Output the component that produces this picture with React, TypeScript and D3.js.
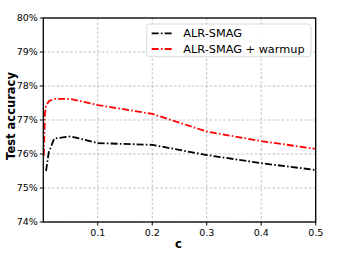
import React from 'react';
import * as d3 from 'd3';

// values
const baseC = [0.005, 0.01, 0.02, 0.05, 0.1, 0.2, 0.3, 0.4, 0.5];
const baseAcc = [75.5, 76.05, 76.45, 76.52, 76.32, 76.27, 75.97, 75.73, 75.53];
const warmC = [0.001, 0.003, 0.005, 0.01, 0.02, 0.05, 0.1, 0.2, 0.3, 0.4, 0.5];
const warmAcc = [75.95, 77.2, 77.4, 77.55, 77.62, 77.62, 77.44, 77.18, 76.66, 76.38, 76.15];
const xTicks = [0.1, 0.2, 0.3, 0.4, 0.5];
const yTicks = [74, 75, 76, 77, 78, 79, 80];
const seriesNames = ['ALR-SMAG', 'ALR-SMAG + warmup'];
const seriesColors = ['#000000', '#ff0000'];

const W = 349;
const H = 262;
const m = { left: 43.3, right: 33.3, top: 18, bottom: 40 };
const FONT = 'DejaVu Sans, sans-serif';
const DASH = '7,2.2,1.6,2.2';

const App: React.FC = () => {
  const x = d3.scaleLinear().domain([0, 0.5]).range([m.left, W - m.right]);
  const y = d3.scaleLinear().domain([74, 80]).range([H - m.bottom, m.top]);

  const line = d3.line<[number, number]>()
    .x(d => x(d[0]))
    .y(d => y(d[1]));

  const series = [
    baseC.map((c, i) => [c, baseAcc[i]] as [number, number]),
    warmC.map((c, i) => [c, warmAcc[i]] as [number, number])
  ];

  const x0 = m.left;
  const x1 = W - m.right;
  const y0 = H - m.bottom;
  const y1 = m.top;

  const lgX = 146.7;
  const lgY = 24;

  return (
    <svg width={W} height={H} style={{ position: 'absolute', left: 0, top: 0 }} fontFamily={FONT}>
      <rect width={W} height={H} fill="#fff" />
      {/* grid */}
      <g stroke="#b0b0b0" strokeWidth={0.8} strokeDasharray="2.5,2">
        {xTicks.map(t => (
          <line key={'gx' + t} x1={x(t)} x2={x(t)} y1={y1} y2={y0} />
        ))}
        {yTicks.map(t => (
          <line key={'gy' + t} x1={x0} x2={x1} y1={y(t)} y2={y(t)} />
        ))}
      </g>
      {/* data lines */}
      {series.map((s, i) => (
        <path
          key={i}
          d={line(s) || ''}
          fill="none"
          stroke={seriesColors[i]}
          strokeWidth={1.8}
          strokeDasharray={DASH}
        />
      ))}
      {/* spines */}
      <rect x={x0} y={y1} width={x1 - x0} height={y0 - y1} fill="none" stroke="#000" strokeWidth={1.3} />
      {/* x ticks */}
      {xTicks.map(t => (
        <g key={'xt' + t}>
          <line x1={x(t)} x2={x(t)} y1={y0} y2={y0 + 3.5} stroke="#000" strokeWidth={1} />
          <text x={x(t)} y={y0 + 13.5} fontSize={9.5} textAnchor="middle" fill="#000">{t}</text>
        </g>
      ))}
      {/* y ticks */}
      {yTicks.map(t => (
        <g key={'yt' + t}>
          <line x1={x0 - 3.5} x2={x0} y1={y(t)} y2={y(t)} stroke="#000" strokeWidth={1} />
          <text x={x0 - 5.5} y={y(t)} dy="0.35em" fontSize={9.5} textAnchor="end" fill="#000">{t}%</text>
        </g>
      ))}
      {/* axis labels */}
      <text x={178.5} y={247.5} fontSize={11.5} fontWeight="bold" textAnchor="middle">c</text>
      <text
        transform={`translate(15,116) rotate(-90)`}
        fontSize={11.5}
        fontWeight="bold"
        textAnchor="middle"
      >
        Test accuracy
      </text>
      {/* legend */}
      <rect x={lgX} y={lgY} width={164.3} height={32.7} rx={2.5} fill="#fff" fillOpacity={0.8} stroke="#d0d0d0" strokeWidth={0.8} />
      {seriesNames.map((n, i) => (
        <g key={n}>
          <line
            x1={lgX + 5}
            x2={lgX + 26.6}
            y1={lgY + 9.3 + i * 15.7}
            y2={lgY + 9.3 + i * 15.7}
            stroke={seriesColors[i]}
            strokeWidth={1.8}
            strokeDasharray={DASH}
          />
          <text x={lgX + 36.6} y={lgY + 9.3 + i * 15.7} dy="0.36em" fontSize={11.3} fill="#000">{n}</text>
        </g>
      ))}
    </svg>
  );
};

export default App;
